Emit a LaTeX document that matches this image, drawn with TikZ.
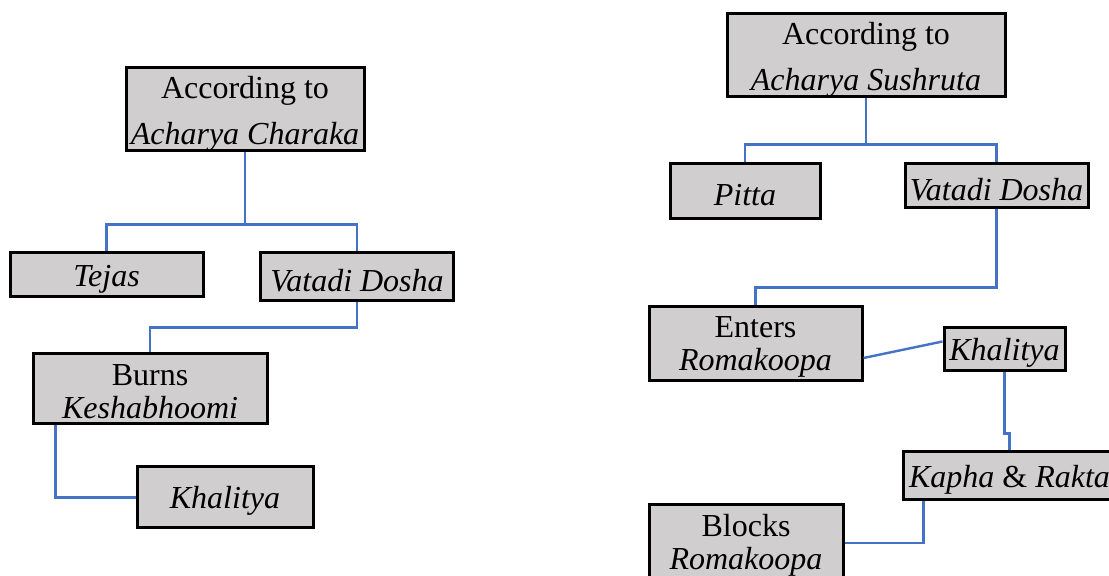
\documentclass[tikz,border=0pt]{standalone}
\usepackage{fontspec}
\setmainfont{Liberation Serif}
\usetikzlibrary{calc}
\definecolor{boxgray}{HTML}{D0CECE}
\definecolor{linkblue}{HTML}{4472C4}
\begin{document}
\begin{tikzpicture}[x=0.5pt,y=-0.5pt,
    box/.style={draw=black,fill=boxgray,line width=1.5pt,inner sep=0pt,
        align=center,font=\fontsize{16}{16.5}\selectfont,
        execute at begin node=\rule{0pt}{14.5pt}},
    twoline/.style={execute at begin node=\rule{0pt}{30pt}},
    headline/.style={execute at begin node=\rule{0pt}{38pt}},
    link/.style={draw=linkblue,line width=1.2pt}]
                    \clip (0,0) rectangle (1109,576);
                    \fill[white] (0,0) rectangle (1109,576);
                    % left tree
                    \node[box,headline,minimum width=119pt,minimum height=41.5pt] (charaka) at (245,109.5) {According to\\[6.5pt]\textit{Acharya Charaka}};
                    \node[box,minimum width=96.5pt,minimum height=22pt] (tejas) at (106.5,275) {\textit{Tejas}};
                    \node[box,minimum width=96.5pt,minimum height=24pt] (vatadiL) at (357,277) {\textit{Vatadi Dosha}};
                    \node[box,twoline,minimum width=117pt,minimum height=35pt] (burns) at (150,389) {Burns\\\textit{Keshabhoomi}};
                    \node[box,minimum width=88pt,minimum height=30.5pt] (khalityaL) at (225,497.5) {\textit{Khalitya}};
                    % right tree
                    \node[box,headline,minimum width=139pt,minimum height=41.5pt] (sushruta) at (866,55.5) {According to\\[6.5pt]\textit{Acharya Sushruta}};
                    \node[box,minimum width=75pt,minimum height=27.5pt] (pitta) at (745,191.5) {\textit{Pitta}};
                    \node[box,minimum width=91.5pt,minimum height=22pt] (vatadiR) at (996.5,186) {\textit{Vatadi Dosha}};
                    \node[box,twoline,minimum width=106.5pt,minimum height=37pt] (enters) at (755.5,344) {Enters\\\textit{Romakoopa}};
                    \node[box,minimum width=60.5pt,minimum height=21.5pt] (khalityaR) at (1004.5,349.5) {\textit{Khalitya}};
                    \node[box,minimum width=106.5pt,minimum height=24pt] (kapha) at (1009.5,476) {\textit{Kapha} \& \textit{Rakta}};
                    \node[box,twoline,minimum width=97pt,minimum height=38pt] (blocks) at (746,543) {Blocks\\\textit{Romakoopa}};
                    % connectors
                    \draw[link] (charaka.south) -- ++(0,72) -| (tejas.north);
                    \draw[link] (charaka.south) -- ++(0,72) -| (vatadiL.north);
                    \draw[link] (vatadiL.south) -- ++(0,25) -| (burns.north);
                    \draw[link] ($(burns.south west)+(24,0)$) |- (khalityaL.west);
                    \draw[link] (sushruta.south) -- ++(0,46) -| (pitta.north);
                    \draw[link] (sushruta.south) -- ++(0,46) -| (vatadiR.north);
                    \draw[link] (vatadiR.south) -- ++(0,78) -| (enters.north);
                    \draw[link] ($(enters.east)+(0,14)$) -- ($(khalityaR.west)+(0,-8)$);
                    \draw[link] (khalityaR.south) -- ++(0,61) -| (kapha.north);
                    \draw[link] ($(kapha.south west)+(22,0)$) |- (blocks.east);
                \end{tikzpicture}
\end{document}
